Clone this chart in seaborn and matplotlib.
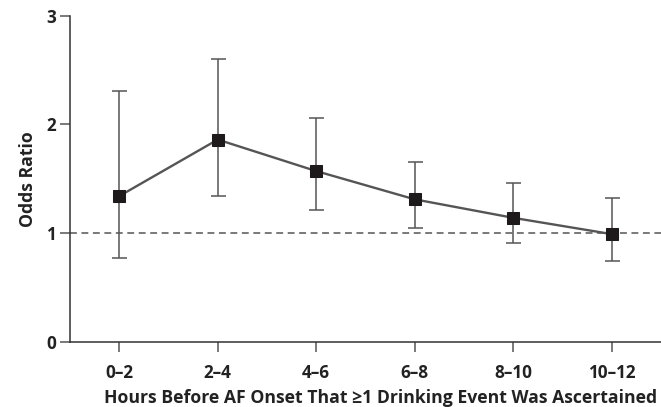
import numpy as np
import pandas as pd
import matplotlib
matplotlib.use("Agg")
import matplotlib.pyplot as plt
import seaborn as sns

categories = ["0–2", "2–4", "4–6", "6–8", "8–10", "10–12"]
odds_ratio = [1.34, 1.86, 1.57, 1.31, 1.14, 0.99]
ci_low = [0.77, 1.34, 1.21, 1.05, 0.91, 0.74]
ci_high = [2.31, 2.60, 2.06, 1.65, 1.46, 1.32]
y_ticks = [0, 1, 2, 3]

sns.set_style("white")
plt.rcParams["font.family"] = ["Open Sans", "DejaVu Sans"]

df = pd.DataFrame({"pos": np.arange(len(categories)), "or": odds_ratio,
                   "lo": ci_low, "hi": ci_high})

fig = plt.figure(figsize=(6.61, 4.07), dpi=100)
ax = fig.add_axes([70 / 661, (407 - 341.7) / 407, 591 / 661, (341.7 - 15.7) / 407])

ax.axhline(1, color="#555555", lw=1.1, ls=(0, (4.5, 3)), zorder=1)

yerr = np.array([df["or"] - df["lo"], df["hi"] - df["or"]])
ax.errorbar(df["pos"], df["or"], yerr=yerr, fmt="none", ecolor="#555555",
            elinewidth=1.1, capsize=5.4, capthick=1.1, zorder=2)

sns.lineplot(data=df, x="pos", y="or", ax=ax, color="#555555", lw=1.7,
             marker="s", markersize=8.4, markerfacecolor="#1e1a1b",
             markeredgecolor="#1e1a1b", zorder=3)

ax.set_xlim(-0.5, 5.5)
ax.set_ylim(0, 3)
ax.set_xticks(df["pos"])
ax.set_xticklabels(categories)
ax.set_yticks(y_ticks)
ax.set_yticklabels([str(t) for t in y_ticks])

for s in ["top", "right"]:
    ax.spines[s].set_visible(False)
for s in ["left", "bottom"]:
    ax.spines[s].set_color("#333333")
    ax.spines[s].set_linewidth(1.1)

ax.tick_params(axis="both", which="both", direction="out", length=7,
               width=1.1, color="#555555", labelcolor="#222222",
               labelsize=12.3, left=True, bottom=True)
ax.tick_params(axis="x", pad=9)
ax.tick_params(axis="y", pad=3)
for lab in ax.get_xticklabels() + ax.get_yticklabels():
    lab.set_fontweight("bold")

ax.set_xlabel("Hours Before AF Onset That ≥1 Drinking Event Was Ascertained",
              fontsize=12.7, fontweight="bold", color="#222222", labelpad=5)
ax.xaxis.label.set_x(0.526)
ax.set_ylabel("Odds Ratio", fontsize=12.7, fontweight="bold",
              color="#222222", labelpad=7)

fig.savefig("out.png", dpi=100)
